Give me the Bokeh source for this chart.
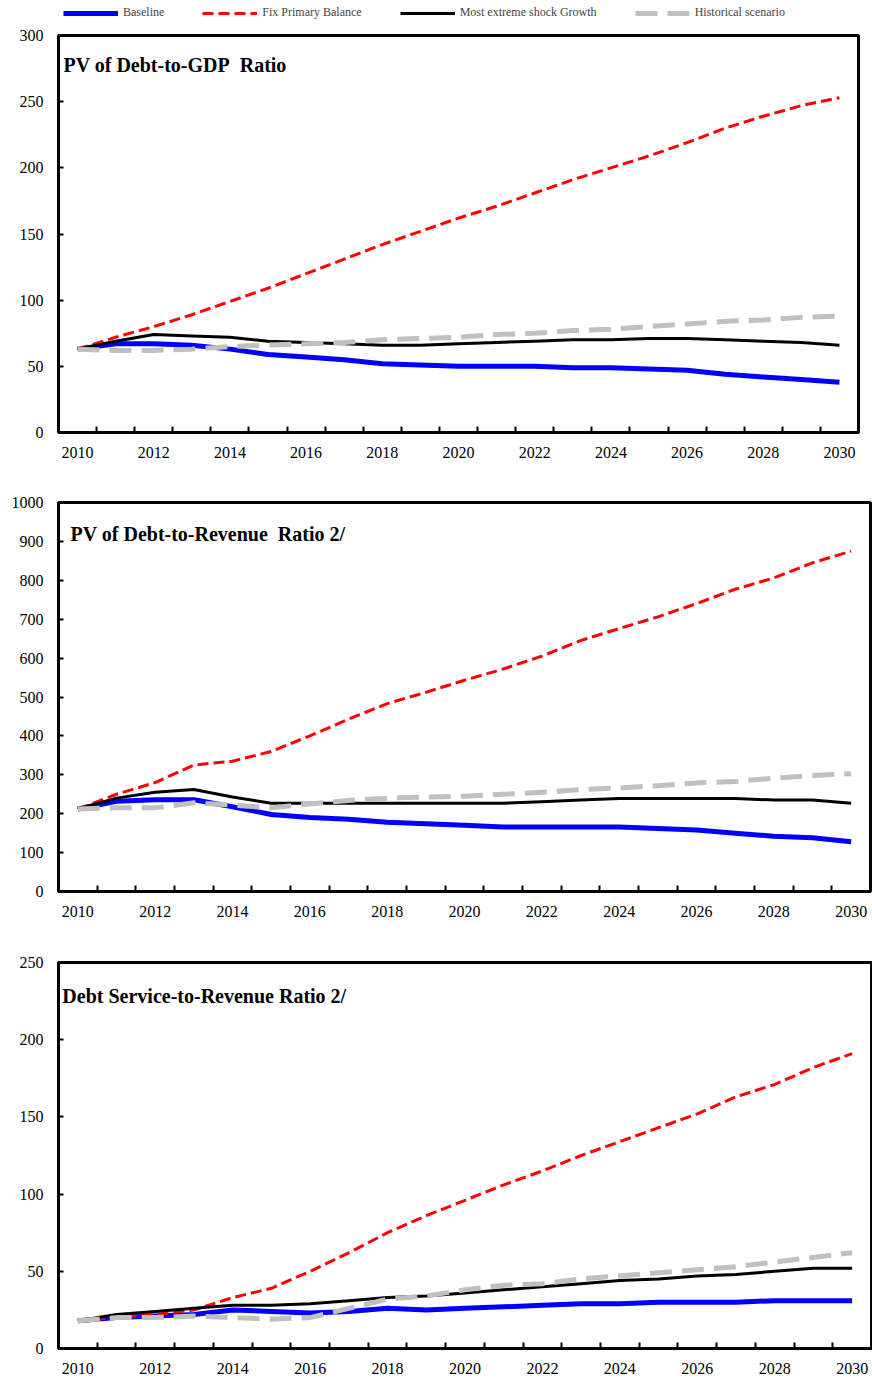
from bokeh.plotting import figure
from bokeh.layouts import column
from bokeh.models import FixedTicker, Label, Legend, LegendItem, Range1d
from bokeh.embed import file_html
from bokeh.resources import INLINE

years = list(range(2010, 2031))

# PV of debt-to-GDP ratio
gdp_baseline = [63, 67, 67, 66, 63, 59, 57, 55, 52, 51, 50, 50, 50, 49, 49, 48, 47, 44, 42, 40, 38]
gdp_fix_pb = [63, 72, 80, 89, 99, 109, 120, 131, 142, 152, 162, 171, 181, 191, 200, 209, 219, 230, 239, 247, 253]
gdp_shock = [63, 69, 74, 73, 72, 69, 68, 67, 66, 66, 67, 68, 69, 70, 70, 71, 71, 70, 69, 68, 66]
gdp_hist = [63, 62, 62, 63, 65, 66, 67, 68, 70, 71, 72, 74, 75, 77, 78, 80, 82, 84, 85, 87, 88]

# PV of debt-to-revenue ratio
rev_baseline = [212, 232, 236, 236, 218, 198, 190, 186, 178, 174, 170, 166, 166, 166, 166, 162, 158, 150, 142, 138, 128]
rev_fix_pb = [212, 250, 280, 325, 335, 360, 400, 443, 483, 512, 543, 572, 605, 645, 676, 706, 740, 777, 806, 845, 875]
rev_shock = [212, 240, 255, 262, 243, 227, 227, 227, 227, 227, 227, 227, 231, 235, 239, 239, 239, 239, 235, 235, 227]
rev_hist = [212, 215, 215, 228, 222, 215, 225, 234, 240, 243, 245, 250, 255, 262, 266, 272, 279, 283, 291, 298, 303]

# Debt service-to-revenue ratio
ds_baseline = [18, 20, 21, 22, 25, 24, 23, 24, 26, 25, 26, 27, 28, 29, 29, 30, 30, 30, 31, 31, 31]
ds_fix_pb = [18, 20, 22, 25, 33, 39, 50, 62, 75, 86, 96, 106, 115, 125, 134, 143, 152, 163, 171, 182, 191]
ds_shock = [18, 22, 24, 26, 28, 28, 29, 31, 33, 34, 36, 38, 40, 42, 44, 45, 47, 48, 50, 52, 52]
ds_hist = [18, 20, 20, 21, 20, 19, 20, 26, 32, 34, 38, 41, 42, 45, 47, 49, 51, 53, 56, 59, 62]

series_names = ["Baseline", "Fix Primary Balance", "Most extreme shock Growth", "Historical scenario"]
x_labels = [str(y) for y in range(2010, 2031, 2)]

SERIF = "Liberation Serif"
LEFT = 58

styles = [
    dict(line_color="#0000FF", line_width=5),
    dict(line_color="#FF0000", line_width=3, line_dash="11 5"),
    dict(line_color="#000000", line_width=3),
    dict(line_color="#C0C0C0", line_width=5, line_dash="22 10"),
]


def panel(series, ymax, ystep, title, title_x, title_y, frame, borders):
    fw, fh = frame
    top, bottom, right = borders
    p = figure(frame_width=fw, frame_height=fh, output_backend="svg", toolbar_location=None,
               x_range=Range1d(2009.5, 2030.5), y_range=Range1d(0, ymax),
               min_border_top=top, min_border_bottom=bottom,
               min_border_left=LEFT, min_border_right=right)
    p.grid.visible = False
    p.outline_line_color = "black"
    p.outline_line_width = 3
    p.background_fill_color = "white"
    p.border_fill_color = "white"

    renderers = []
    for ys, st in zip(series, styles):
        renderers.append(p.line(years, ys, line_join="round", **st))

    xa = p.xaxis[0]
    xa.ticker = FixedTicker(ticks=[int(s) for s in x_labels],
                            minor_ticks=[y + 0.5 for y in years[:-1]])
    xa.major_tick_line_color = None
    xa.major_tick_in = 0
    xa.major_tick_out = 0
    xa.minor_tick_in = 6
    xa.minor_tick_out = 0
    xa.minor_tick_line_width = 2
    xa.minor_tick_line_color = "black"
    xa.major_label_standoff = 14
    xa.major_label_overrides = {int(s): s for s in x_labels}

    ya = p.yaxis[0]
    ya.ticker = FixedTicker(ticks=list(range(0, ymax + 1, ystep)), minor_ticks=[])
    ya.major_tick_in = 5
    ya.major_tick_out = 0
    ya.major_tick_line_width = 2
    ya.minor_tick_line_color = None
    ya.major_label_standoff = 15

    for ax in (xa, ya):
        ax.axis_line_width = 3
        ax.axis_line_color = "black"
        ax.major_label_text_font = SERIF
        ax.major_label_text_font_size = "16px"
        ax.major_label_text_color = "black"

    p.add_layout(Label(x=title_x, y=title_y, text=title, text_font=SERIF,
                       text_font_style="bold", text_font_size="20px",
                       text_baseline="middle", text_color="black"))
    return p, renderers


p1, _ = panel([gdp_baseline, gdp_fix_pb, gdp_shock, gdp_hist], 300, 50,
              "PV of Debt-to-GDP\u00a0 Ratio", 2009.63, 278, (800, 397), (9, 38, 14))
p2, _ = panel([rev_baseline, rev_fix_pb, rev_shock, rev_hist], 1000, 100,
              "PV of Debt-to-Revenue\u00a0 Ratio 2/", 2009.81, 920, (812, 389), (32, 39, 2))
p3, _ = panel([ds_baseline, ds_fix_pb, ds_shock, ds_hist], 250, 50,
              "Debt Service-to-Revenue Ratio 2/", 2009.6, 228, (813, 386), (32, 32, 1))

# Legend strip: placeholder line glyphs carry the series styles for the legend keys
key = figure(width=872, height=26, output_backend="svg", toolbar_location=None,
             x_range=Range1d(0, 1), y_range=Range1d(0, 1),
             min_border=0, outline_line_color=None)
key.axis.visible = False
key.grid.visible = False
nan = float("nan")
key_renderers = [key.line(x=[nan], y=[nan], **st) for st in styles]
legend = Legend(items=[LegendItem(label=n, renderers=[r]) for n, r in zip(series_names, key_renderers)],
                orientation="horizontal", location=(5, 6),
                glyph_width=55, glyph_height=8, label_standoff=5, spacing=38,
                label_text_font=SERIF, label_text_font_size="12px",
                padding=0, margin=0, border_line_color=None, background_fill_alpha=0)
key.add_layout(legend)

layout = column(key, p1, p2, p3, spacing=0)
open("out.html", "w").write(file_html(layout, INLINE))
